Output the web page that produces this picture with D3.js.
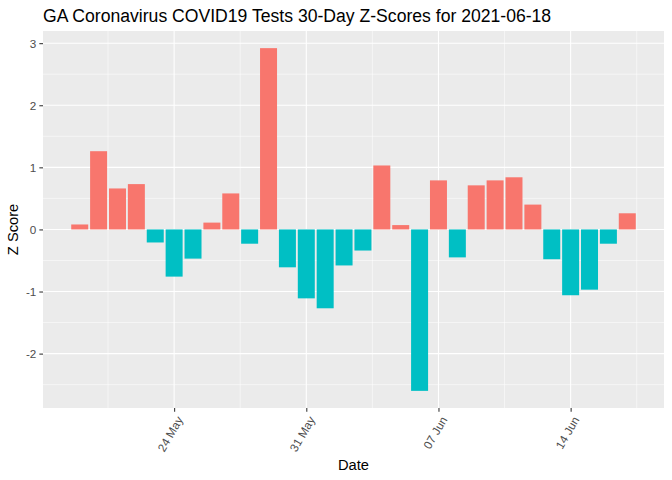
<!DOCTYPE html>
<html>
<head>
<meta charset="utf-8">
<script src="https://cdn.jsdelivr.net/npm/d3@7"></script>
<style>
  body { margin: 0; background: #fff; }
  text { font-family: "Liberation Sans", Arial, sans-serif; }
</style>
</head>
<body>
<svg width="672" height="480"></svg>
<script>
// dagen en z-scores
var days = ["2021-05-19","2021-05-20","2021-05-21","2021-05-22","2021-05-23","2021-05-24",
            "2021-05-25","2021-05-26","2021-05-27","2021-05-28","2021-05-29","2021-05-30",
            "2021-05-31","2021-06-01","2021-06-02","2021-06-03","2021-06-04","2021-06-05",
            "2021-06-06","2021-06-07","2021-06-08","2021-06-09","2021-06-10","2021-06-11",
            "2021-06-12","2021-06-13","2021-06-14","2021-06-15","2021-06-16","2021-06-17"];
var zscores = [0.08, 1.26, 0.66, 0.73, -0.21, -0.76, -0.47, 0.11, 0.58, -0.23,
               2.92, -0.61, -1.11, -1.27, -0.58, -0.34, 1.03, 0.07, -2.60, 0.79,
               -0.45, 0.71, 0.79, 0.84, 0.40, -0.48, -1.06, -0.97, -0.23, 0.26];
var yTicks = [-2, -1, 0, 1, 2, 3];
var xTicks = ["2021-05-24", "2021-05-31", "2021-06-07", "2021-06-14"];

var parse = d3.utcParse("%Y-%m-%d");
var data = days.map(function(d, i) { return {date: parse(d), z: zscores[i]}; });

var svg = d3.select("svg"),
    margin = {top: 31, right: 8, bottom: 72, left: 43},
    width = +svg.attr("width") - margin.left - margin.right,
    height = +svg.attr("height") - margin.top - margin.bottom;

var DAY = 864e5;
// ggplot: breedte 0.9 en 5% uitbreiding
var x0 = d3.min(data, function(d) { return +d.date; }) - 0.45 * DAY,
    x1 = d3.max(data, function(d) { return +d.date; }) + 0.45 * DAY,
    xpad = (x1 - x0) * 0.05;
var x = d3.scaleUtc().domain([new Date(x0 - xpad), new Date(x1 + xpad)]).range([0, width]);

var ymin = d3.min(zscores), ymax = d3.max(zscores), ypad = (ymax - ymin) * 0.05;
var y = d3.scaleLinear().domain([ymin - ypad, ymax + ypad]).range([height, 0]);

var g = svg.append("g")
    .attr("transform", "translate(" + margin.left + "," + margin.top + ")");

g.append("rect").attr("width", width).attr("height", height).attr("fill", "#EBEBEB");

// minor grid
var yMinor = yTicks.map(function(t) { return t + 0.5; }).concat([-2.5])
    .filter(function(t) { return t > y.domain()[0] && t < y.domain()[1]; });
g.selectAll(".ymin").data(yMinor).enter().append("line")
    .attr("x1", 0).attr("x2", width)
    .attr("y1", function(d) { return y(d); }).attr("y2", function(d) { return y(d); })
    .attr("stroke", "#fff").attr("stroke-width", 0.53);

var xMaj = xTicks.map(parse);
var xMinor = [new Date(+xMaj[0] - 3.5 * DAY)].concat(xMaj.map(function(d) { return new Date(+d + 3.5 * DAY); }))
    .filter(function(d) { return x(d) > 0 && x(d) < width; });
g.selectAll(".xmin").data(xMinor).enter().append("line")
    .attr("y1", 0).attr("y2", height)
    .attr("x1", function(d) { return x(d); }).attr("x2", function(d) { return x(d); })
    .attr("stroke", "#fff").attr("stroke-width", 0.53);

// major grid
g.selectAll(".ymaj").data(yTicks).enter().append("line")
    .attr("x1", 0).attr("x2", width)
    .attr("y1", function(d) { return y(d); }).attr("y2", function(d) { return y(d); })
    .attr("stroke", "#fff").attr("stroke-width", 1.07);
g.selectAll(".xmaj").data(xMaj).enter().append("line")
    .attr("y1", 0).attr("y2", height)
    .attr("x1", function(d) { return x(d); }).attr("x2", function(d) { return x(d); })
    .attr("stroke", "#fff").attr("stroke-width", 1.07);

// bars
var bw = x(new Date(0.9 * DAY)) - x(new Date(0));
g.selectAll(".bar")
  .data(data)
  .enter().append("rect")
    .attr("x", function(d) { return x(d.date) - bw / 2; })
    .attr("y", function(d) { return y(Math.max(0, d.z)); })
    .attr("width", bw)
    .attr("height", function(d) { return Math.abs(y(d.z) - y(0)); })
    .attr("fill", function(d) { return d.z > 0 ? "#F8766D" : "#00BFC4"; });

// assen
var yAxis = g.append("g")
    .call(d3.axisLeft(y).tickValues(yTicks).tickSize(3.67).tickPadding(3)
      .tickFormat(function(d) { return String(d); }));
var xAxis = g.append("g")
    .attr("transform", "translate(0," + height + ")")
    .call(d3.axisBottom(x).tickValues(xMaj).tickSize(3.67).tickPadding(3).tickFormat(d3.utcFormat("%d %b")));
[yAxis, xAxis].forEach(function(a) {
  a.select(".domain").remove();
  a.selectAll(".tick line").attr("stroke", "#333").attr("stroke-width", 1.07);
  a.selectAll(".tick text").attr("fill", "#4D4D4D").style("font-size", "11.7px")
    .style("font-family", "'Liberation Sans', Arial, sans-serif");
});
yAxis.selectAll(".tick text").attr("dy", "0.35em");
xAxis.selectAll(".tick text")
    .attr("text-anchor", "end")
    .attr("dy", null)
    .attr("transform", "translate(6,10) rotate(-60)")
    .attr("y", 0).attr("x", 0)
    .attr("dominant-baseline", "middle");

// titels
svg.append("text")
    .attr("x", margin.left).attr("y", 22)
    .style("font-size", "17.6px").attr("fill", "#000")
    .text("GA Coronavirus COVID19 Tests 30-Day Z-Scores for 2021-06-18");
svg.append("text")
    .attr("x", margin.left + width / 2).attr("y", 470)
    .attr("text-anchor", "middle").style("font-size", "14.7px")
    .text("Date");
svg.append("text")
    .attr("transform", "translate(18," + (margin.top + y(0)) + ") rotate(-90)")
    .attr("text-anchor", "middle").style("font-size", "14.7px")
    .text("Z Score");
</script>
</body>
</html>
